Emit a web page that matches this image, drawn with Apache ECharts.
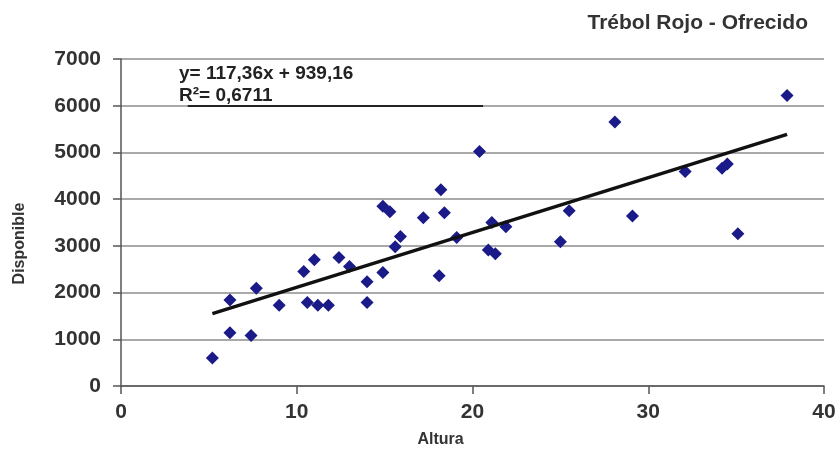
<!DOCTYPE html>
<html>
<head>
<meta charset="utf-8">
<script src="https://cdn.jsdelivr.net/npm/echarts@6/dist/echarts.min.js"></script>
<style>
  html, body { margin: 0; padding: 0; background: #ffffff; }
  #chart { width: 840px; height: 455px; }
</style>
</head>
<body>
<div id="chart"></div>
<script>
// Plant height (Altura) vs. available forage (Disponible)
const altura = [5.2, 6.2, 6.2, 7.4, 7.7, 9.0, 10.4, 11.0, 10.6, 11.2, 11.8, 12.4, 13.0, 14.0, 14.0,
  14.9, 15.3, 15.9, 15.6, 14.9, 17.2, 18.2, 18.4, 18.1, 19.1, 20.4, 21.1, 20.9, 21.3, 21.9,
  25.5, 25.0, 28.1, 29.1, 32.1, 34.2, 34.5, 35.1, 37.9];
const disponible = [600, 1840, 1140, 1080, 2090, 1730, 2450, 2700, 1790, 1730, 1730, 2750, 2560, 2230, 1790,
  3850, 3730, 3200, 2980, 2430, 3600, 4200, 3710, 2360, 3180, 5020, 3500, 2910, 2830, 3410,
  3750, 3090, 5650, 3640, 4590, 4660, 4750, 3260, 6220];

// Linear fit reported on the chart
const slope = 117.36;
const intercept = 939.16;
const r2 = 0.6711;

const chartTitle = 'Trébol Rojo - Ofrecido';
const xName = 'Altura';
const yName = 'Disponible';

const fmt = (v, d) => v.toFixed(d).replace('.', ',');

const points = altura.map((x, i) => [x, disponible[i]]);
const xMin = Math.min(...altura);
const xMax = Math.max(...altura);
const trend = [[xMin, slope * xMin + intercept], [xMax, slope * xMax + intercept]];

const font = '"Liberation Sans", Arial, sans-serif';
const chart = echarts.init(document.getElementById('chart'));

chart.setOption({
  animation: false,
  backgroundColor: '#ffffff',
  title: [
    {
      text: chartTitle,
      right: 27, top: 8,
      textStyle: { fontFamily: font, fontWeight: 'bold', fontSize: 21, color: '#333333' }
    },
    {
      text: 'y= ' + fmt(slope, 2) + 'x + ' + fmt(intercept, 2) + '\nR²= ' + fmt(r2, 4),
      left: 174, top: 58,
      textStyle: { fontFamily: font, fontWeight: 'bold', fontSize: 19, color: '#222222', lineHeight: 22 }
    }
  ],
  grid: { left: 121, right: 16, top: 59, bottom: 69, containLabel: false },
  xAxis: {
    type: 'value', min: 0, max: 40, interval: 10,
    name: xName, nameLocation: 'middle', nameGap: 46,
    nameTextStyle: { fontFamily: font, fontWeight: 'bold', fontSize: 16, color: '#333333', padding: [0, 64, 0, 0] },
    axisLine: { show: true, onZero: false, lineStyle: { color: '#555555', width: 1.5 } },
    axisTick: { show: true, length: 8, lineStyle: { color: '#555555', width: 1.5 } },
    axisLabel: { fontFamily: font, fontWeight: 'bold', fontSize: 21, color: '#333333', margin: 16 },
    splitLine: { show: false }
  },
  yAxis: {
    type: 'value', min: 0, max: 7000, interval: 1000,
    name: yName, nameLocation: 'middle', nameGap: 93, nameRotate: 90,
    nameTextStyle: { fontFamily: font, fontWeight: 'bold', fontSize: 16, color: '#333333', padding: [0, 42, 0, 0] },
    axisLine: { show: true, lineStyle: { color: '#555555', width: 1.5 } },
    axisTick: { show: true, length: 8, lineStyle: { color: '#555555', width: 1.5 } },
    axisLabel: {
      fontFamily: font, fontWeight: 'bold', fontSize: 21, color: '#333333', margin: 20,
      formatter: (v) => String(v)
    },
    splitLine: { show: true, lineStyle: { color: '#8c8c8c', width: 1.5 } }
  },
  series: [
    {
      type: 'scatter',
      data: points,
      symbol: 'diamond',
      symbolSize: 13,
      itemStyle: { color: '#1a1a88', opacity: 1 },
      z: 2
    },
    {
      type: 'line',
      data: trend,
      symbol: 'none',
      lineStyle: { color: '#111111', width: 3.5 },
      z: 3,
      markLine: {
        silent: true, symbol: 'none', label: { show: false },
        lineStyle: { color: '#222222', width: 2, type: 'solid' },
        data: [[{ coord: [3.8, 6000] }, { coord: [20.6, 6000] }]]
      }
    }
  ]
});
</script>
</body>
</html>
